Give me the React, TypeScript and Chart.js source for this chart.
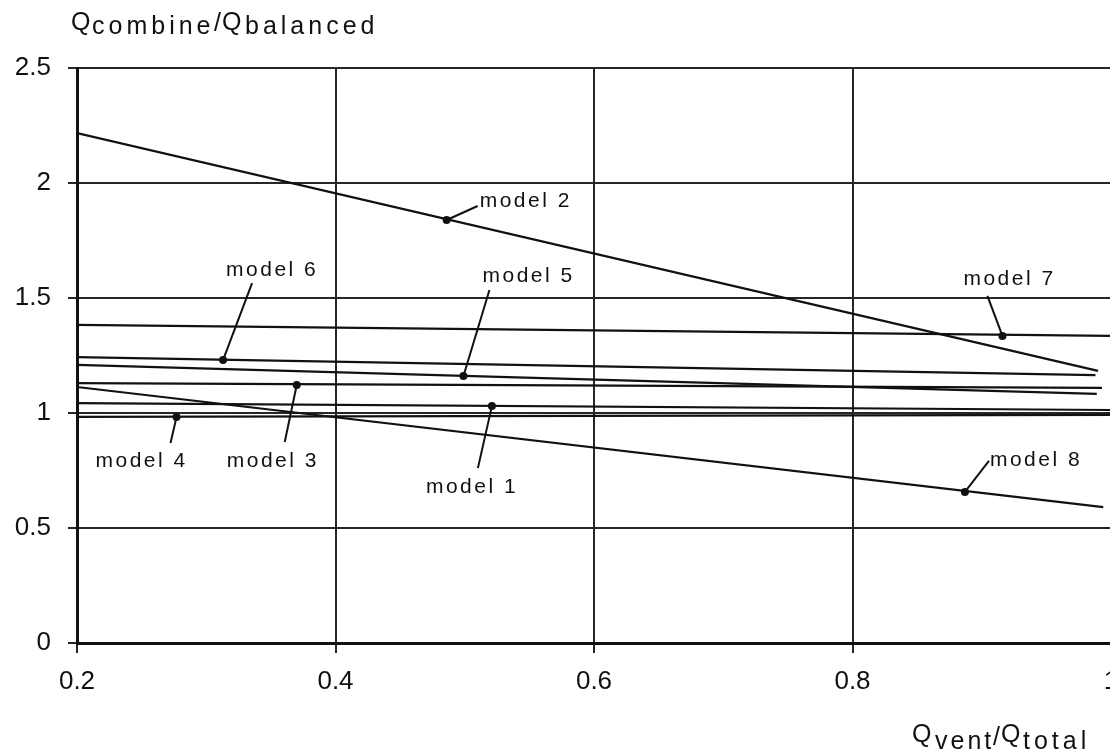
import React, { useEffect, useRef } from 'react';
import { Chart, registerables } from 'chart.js';

Chart.register(...registerables);

// ---- data ----
const xTicks = [0.2, 0.4, 0.6, 0.8, 1.0];
const yTicks = [0, 0.5, 1, 1.5, 2, 2.5];

const model1 = [{ x: 0.2, y: 1.043 }, { x: 1.0, y: 1.013 }];
const model2 = [{ x: 0.2, y: 2.217 }, { x: 0.99, y: 1.183 }];
const model3 = [{ x: 0.2, y: 1.13 }, { x: 0.993, y: 1.109 }];
const model4 = [{ x: 0.2, y: 0.983 }, { x: 1.0, y: 0.992 }];
const model5 = [{ x: 0.2, y: 1.209 }, { x: 0.989, y: 1.083 }];
const model6 = [{ x: 0.2, y: 1.243 }, { x: 0.988, y: 1.165 }];
const model7 = [{ x: 0.2, y: 1.383 }, { x: 1.0, y: 1.335 }];
const model8 = [{ x: 0.2, y: 1.113 }, { x: 0.994, y: 0.591 }];

const modelNames = ['model 1', 'model 2', 'model 3', 'model 4', 'model 5', 'model 6', 'model 7', 'model 8'];
const modelSeries = [model1, model2, model3, model4, model5, model6, model7, model8];
const markerX = [0.521, 0.486, 0.37, 0.277, 0.499, 0.313, 0.916, 0.887];
const markerY = [1.03, 1.839, 1.122, 0.983, 1.161, 1.23, 1.335, 0.657];

// ---- styles ----
const INK = '#111111';
const GRID = '#262626';
const FONT = '"Liberation Sans", Arial, Helvetica, sans-serif';

// leader line end and label baseline-left position, pixel offsets from the marker
const leaderEnd = [
  [-14, 62], [31, -14], [-12, 57], [-6, 26], [26, -86], [29, -77], [-15, -40], [24, -31],
];
const labelOffset = [
  [-66, 87], [33, -13], [-70, 82], [-81, 50], [19, -94], [3, -84], [-39, -51], [25, -26],
];

const annotPlugin = {
  id: 'annot',
  afterDatasetsDraw(chart: any) {
    const { ctx } = chart;
    const xs = chart.scales.x;
    const ys = chart.scales.y;
    ctx.save();
    ctx.strokeStyle = INK;
    ctx.fillStyle = INK;
    ctx.lineWidth = 2;
    ctx.font = `21px ${FONT}`;
    try { (ctx as any).letterSpacing = '2.5px'; } catch (e) {}
    ctx.textAlign = 'left';
    ctx.textBaseline = 'alphabetic';
    modelNames.forEach((name, i) => {
      const px = xs.getPixelForValue(markerX[i]);
      const py = ys.getPixelForValue(markerY[i]);
      const [lx, ly] = leaderEnd[i];
      const [tx, ty] = labelOffset[i];
      ctx.beginPath();
      ctx.moveTo(px, py);
      ctx.lineTo(px + lx, py + ly);
      ctx.stroke();
      ctx.fillText(name, px + tx, py + ty);
    });
    ctx.restore();
  },
  afterDraw(chart: any) {
    const { ctx } = chart;
    ctx.save();
    ctx.fillStyle = INK;
    ctx.textAlign = 'left';
    ctx.textBaseline = 'alphabetic';
    const parts = (segs: Array<[string, number, number, number]>) => {
      segs.forEach(([t, x, y, ls]) => {
        ctx.font = `25px ${FONT}`;
        try { (ctx as any).letterSpacing = `${ls}px`; } catch (e) {}
        ctx.fillText(t, x, y);
      });
    };
    // y-axis title
    parts([
      ['Q', 71, 30, 0],
      ['combine', 92, 34, 4],
      ['/', 214, 31, 0],
      ['Q', 222, 30, 0],
      ['balanced', 245, 34, 4],
    ]);
    // x-axis title
    parts([
      ['Q', 912, 742, 0],
      ['vent', 935, 749, 3],
      ['/', 993, 745, 0],
      ['Q', 1001, 742, 0],
      ['total', 1023, 749, 4],
    ]);
    ctx.restore();
  },
};

export default function App() {
  const ref = useRef<HTMLCanvasElement | null>(null);

  useEffect(() => {
    if (!ref.current) return;
    const tickFont = { family: FONT, size: 26 };
    const lineSets = modelSeries.map((d, i) => ({
      label: modelNames[i],
      data: d,
      showLine: true,
      borderColor: INK,
      borderWidth: 2.2,
      pointRadius: 0,
      fill: false,
    }));
    const markers = {
      label: 'markers',
      data: markerX.map((x, i) => ({ x, y: markerY[i] })),
      showLine: false,
      pointRadius: 4,
      pointBackgroundColor: INK,
      pointBorderColor: INK,
      pointBorderWidth: 0,
    };
    const chart = new Chart(ref.current, {
      type: 'scatter',
      data: { datasets: [...lineSets, markers] as any },
      plugins: [annotPlugin],
      options: {
        responsive: false,
        animation: false,
        devicePixelRatio: 1,
        layout: { padding: { top: 68, right: 19, bottom: 0, left: 0 } },
        plugins: {
          legend: { display: false },
          tooltip: { enabled: false },
          title: { display: false },
        },
        scales: {
          x: {
            type: 'linear',
            min: 0.2,
            max: 1.0,
            afterBuildTicks: (s: any) => {
              s.ticks = xTicks.map((v) => ({ value: v }));
            },
            afterFit: (s: any) => {
              s.height = 112;
              s.paddingLeft = 0;
              s.paddingRight = 0;
            },
            ticks: {
              callback: (v: any) => String(v),
              font: tickFont,
              color: INK,
              padding: 13,
              maxRotation: 0,
              autoSkip: false,
            },
            grid: { color: GRID, lineWidth: 2, tickLength: 10, drawTicks: true },
            border: { color: INK, width: 3 },
          },
          y: {
            type: 'linear',
            min: 0,
            max: 2.5,
            afterBuildTicks: (s: any) => {
              s.ticks = yTicks.map((v) => ({ value: v }));
            },
            afterFit: (s: any) => {
              s.width = 77;
              s.paddingTop = 0;
              s.paddingBottom = 0;
            },
            ticks: {
              callback: (v: any) => String(v),
              font: tickFont,
              color: INK,
              padding: 17,
              autoSkip: false,
            },
            grid: { color: GRID, lineWidth: 2, tickLength: 9, drawTicks: true },
            border: { color: INK, width: 3 },
          },
        },
      } as any,
    });
    return () => chart.destroy();
  }, []);

  return (
    <div
      style={{
        position: 'absolute',
        left: 0,
        top: 0,
        width: 1110,
        height: 755,
        overflow: 'hidden',
        background: '#ffffff',
      }}
    >
      <canvas ref={ref} width={1130} height={755} style={{ display: 'block', width: 1130, height: 755 }} />
    </div>
  );
}
